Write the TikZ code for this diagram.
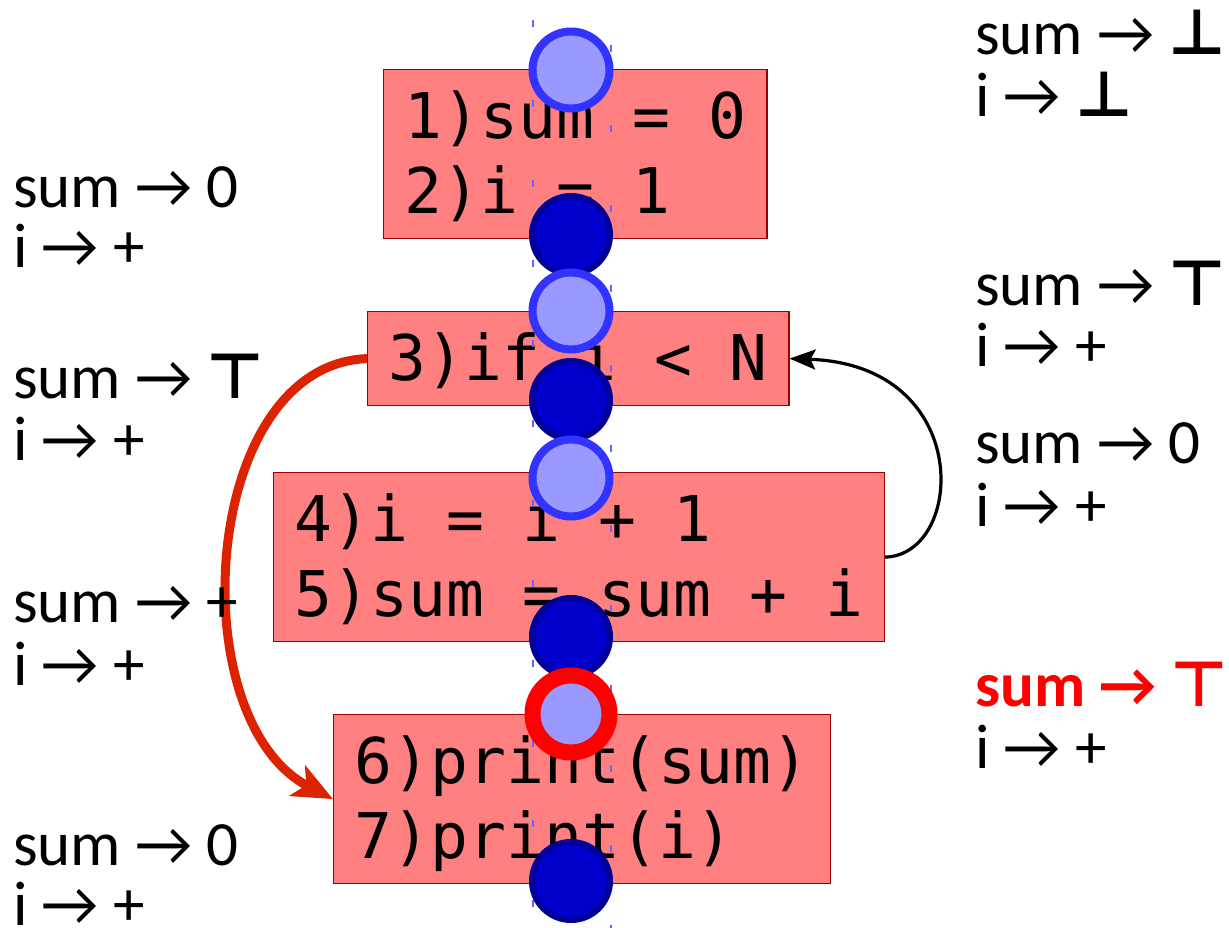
\documentclass[tikz,border=0pt]{standalone}
\usepackage{fontspec}
\setmainfont{Carlito}
\setmonofont{DejaVu Sans Mono}
\newfontfamily\dejafont{DejaVu Sans}
\usetikzlibrary{arrows.meta}
\definecolor{boxfill}{HTML}{FF8080}
\definecolor{boxline}{HTML}{990000}
\definecolor{lightpt}{HTML}{9999FF}
\definecolor{lightrim}{HTML}{3333FF}
\definecolor{darkpt}{HTML}{0000CC}
\definecolor{darkrim}{HTML}{000099}
\definecolor{guideblue}{HTML}{6666FF}
\definecolor{jumpred}{HTML}{DD2200}
\newcommand{\mapsym}{→}
\newcommand{\topsym}{{\dejafont\bfseries ⊤}}
\newcommand{\botsym}{{\dejafont\bfseries ⊥}}
\newcommand{\cdtop}{\rule{0pt}{69pt}}
\newcommand{\cdbot}{\rule[-25pt]{0pt}{25pt}}
\begin{document}
\begin{tikzpicture}[x=1pt, y=-1pt,
  code/.style={draw=boxline, fill=boxfill, line width=1.2pt, anchor=north west, align=left,
    inner xsep=21pt, inner ysep=0pt, font=\fontsize{63}{75}\selectfont\ttfamily},
  state/.style={anchor=base west, inner sep=0pt, font=\fontsize{63}{75}\selectfont},
  inpt/.style={circle, minimum size=77pt, inner sep=0pt, fill=lightpt, draw=lightrim, line width=8pt},
  outpt/.style={circle, minimum size=78pt, inner sep=0pt, fill=darkpt, draw=darkrim, line width=6pt},
  badpt/.style={inpt, draw=red, line width=16pt},
  guide/.style={draw=guideblue, line width=1.3pt, dash pattern=on 7pt off 73pt}]
\useasboundingbox (0,0) rectangle (1229,928);

\node[code] (b12) at (383,69) {\cdtop 1)sum = 0\\2)i = 1\cdbot};
\node[code] (b3) at (367,311) {\cdtop 3)if i < N\cdbot};
\node[code] (b45) at (273,472) {\cdtop 4)i = i + 1\\5)sum = sum + i\cdbot};
\node[code] (b67) at (333,714) {\cdtop 6)print(sum)\\7)print(i)\cdbot};

\draw[guide] (533,20) -- (533,928);
\draw[guide, dash phase=-25pt] (611,20) -- (611,928);

\draw[line width=3.2pt, -{Stealth[length=26pt, width=20pt, inset=5pt]}] (b45.east) .. controls (965,555) and (975,365) .. (b3.east);
\draw[jumpred, line width=9pt, -{Stealth[length=40pt, width=34pt, inset=10pt]}] (b3.west) .. controls (200,365) and (180,720) .. (b67.west);

\node[inpt] (in1) at (571,70) {};
\node[outpt] (out1) at (571,235) {};
\node[inpt] (in2) at (571,311) {};
\node[outpt] (out2) at (571,400) {};
\node[inpt] (in3) at (571,478) {};
\node[outpt] (out3) at (571,637) {};
\node[badpt] (in4) at (571,714) {};
\node[outpt] (out4) at (571,881) {};

\node[state] (lsum1) at (13,208) {sum \mapsym{} 0};
\node[state] (li1) at (13,268) {i \mapsym{} +};
\node[state] (lsum2) at (13,398) {sum \mapsym{} \topsym};
\node[state] (li2) at (13,460) {i \mapsym{} +};
\node[state] (lsum3) at (13,622) {sum \mapsym{} +};
\node[state] (li3) at (13,685) {i \mapsym{} +};
\node[state] (lsum4) at (13,865) {sum \mapsym{} 0};
\node[state] (li4) at (13,925) {i \mapsym{} +};

\node[state] (rsum1) at (975,55) {sum \mapsym{} \botsym};
\node[state] (ri1) at (975,117) {i \mapsym{} \botsym};
\node[state] (rsum2) at (975,305) {sum \mapsym{} \topsym};
\node[state] (ri2) at (975,366) {i \mapsym{} +};
\node[state] (rsum3) at (975,463) {sum \mapsym{} 0};
\node[state] (ri3) at (975,526) {i \mapsym{} +};
\node[state, text=red] (rsum4) at (975,706) {\bfseries sum \mapsym{} {\mdseries\topsym}};
\node[state] (ri4) at (975,768) {i \mapsym{} +};
\end{tikzpicture}
\end{document}
